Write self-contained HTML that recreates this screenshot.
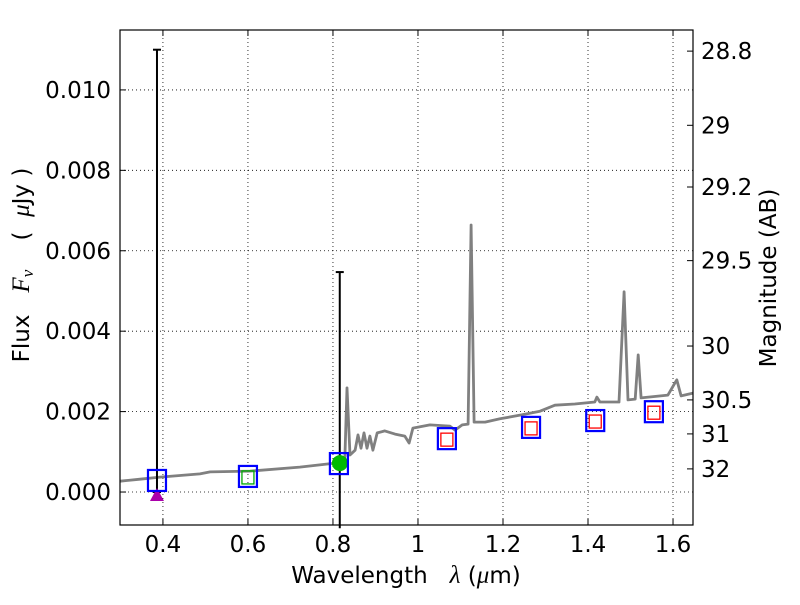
<!DOCTYPE html>
<html><head><meta charset="utf-8"><style>
body{margin:0;background:#fff;}
svg text{font-family:"DejaVu Sans","Liberation Sans",sans-serif;font-size:23px;fill:#000;white-space:pre;}
</style></head><body>
<svg id="chart" width="800" height="600" xmlns="http://www.w3.org/2000/svg">
<g id="grid"></g>
<g id="spec"></g>
<g id="marks"></g>
<rect x="120" y="30" width="573" height="495" fill="none" stroke="#000" stroke-width="1.2"/>
<g id="axes"></g>
<text x="406" y="583" text-anchor="middle">Wavelength   <tspan font-style="italic" font-family="Liberation Serif" font-size="25">λ</tspan> (<tspan font-style="italic" font-family="Liberation Serif" font-size="25">μ</tspan>m)</text>
<text transform="translate(29,265) rotate(-90)" text-anchor="middle">Flux   <tspan font-style="italic" font-family="Liberation Serif" font-size="25">F</tspan><tspan font-style="italic" font-family="Liberation Serif" font-size="17" dy="4">ν</tspan><tspan dy="-4">    (  </tspan><tspan font-style="italic" font-family="Liberation Serif" font-size="25">μ</tspan>Jy )</text>
<text transform="translate(776,278) rotate(-90)" text-anchor="middle">Magnitude (AB)</text>
</svg>
<script>
const xTicks=[0.4,0.6,0.8,1,1.2,1.4,1.6];
const xTickLabels=["0.4","0.6","0.8","1","1.2","1.4","1.6"];
const yTicks=[0,0.002,0.004,0.006,0.008,0.010];
const yTickLabels=["0.000","0.002","0.004","0.006","0.008","0.010"];
const magTicks=[28.8,29,29.2,29.5,30,30.5,31,32];
const magTickLabels=["28.8","29","29.2","29.5","30","30.5","31","32"];
const specLam=[0.299,0.346,0.393,0.487,0.511,0.605,0.722,0.805,0.828,0.833,0.84,0.852,0.859,0.866,0.873,0.88,0.887,0.894,0.904,0.922,0.946,0.969,0.979,0.988,1.028,1.075,1.087,1.104,1.118,1.125,1.132,1.158,1.193,1.245,1.287,1.322,1.369,1.416,1.421,1.428,1.473,1.485,1.494,1.511,1.518,1.525,1.588,1.609,1.619,1.647];
const specFlux=[0.00027,0.00032,0.00037,0.00045,0.0005,0.00052,0.00062,0.00072,0.00087,0.00259,0.00092,0.00104,0.00142,0.00109,0.00147,0.00109,0.00139,0.00104,0.00147,0.00152,0.00144,0.00139,0.00122,0.00159,0.00167,0.00164,0.00154,0.00167,0.00169,0.00664,0.00174,0.00174,0.00182,0.00192,0.00201,0.00216,0.00219,0.00224,0.00236,0.00224,0.00224,0.00498,0.00229,0.00231,0.00341,0.00234,0.00241,0.00279,0.00239,0.00246];
const photLam=[0.386,0.6,0.814,1.068,1.266,1.417,1.555];
const photFlux=[0.0003,0.0004,0.00072,0.00134,0.00162,0.00179,0.00201];
const innerColor=["none","#00aa00","none","red","red","red","red"];
const errLam=[0.386,0.816];
const errLo=[0.0,-0.0009];
const errHi=[0.011,0.00547];
const triLam=[0.386], triFlux=[0.0];
const circLam=[0.814], circFlux=[0.00072];

const X0=120,X1=693,Y0=30,Y1=525,xmin=0.299,xmax=1.647,ymin=-0.00082,ymax=0.01149;
const sx=v=>X0+(v-xmin)/(xmax-xmin)*(X1-X0);
const sy=v=>Y1-(v-ymin)/(ymax-ymin)*(Y1-Y0);
const magToFlux=m=>Math.pow(10,(23.9-m)/2.5);
const NS="http://www.w3.org/2000/svg";
function mk(tag,parent,attrs){const e=document.createElementNS(NS,tag);for(const k in attrs)e.setAttribute(k,attrs[k]);document.getElementById(parent).appendChild(e);return e;}
xTicks.forEach((t,i)=>{const x=sx(t);
 let g=mk('line','grid',{x1:x,x2:x,y1:Y0,y2:Y1,stroke:'#000','stroke-width':0.8,'stroke-dasharray':'1,3'});
 
 
 let a=mk('line','axes',{x1:x,x2:x,y1:Y1,y2:Y1-6,stroke:'#000'});
 
 
 let b=mk('line','axes',{x1:x,x2:x,y1:Y0,y2:Y0+6,stroke:'#000'});
 
 
 let l=mk('text','axes',{x:x,y:Y1+27,'text-anchor':'middle'});l.textContent=xTickLabels[i];
 
 
});
yTicks.forEach((t,i)=>{const y=sy(t);
 let g=mk('line','grid',{x1:X0,x2:X1,y1:y,y2:y,stroke:'#000','stroke-width':0.8,'stroke-dasharray':'1,3'});
 
 
 let a=mk('line','axes',{x1:X0,x2:X0+6,y1:y,y2:y,stroke:'#000'});
 
 
 let l=mk('text','axes',{x:X0-9,y:y+8,'text-anchor':'end'});l.textContent=yTickLabels[i];
 
 
});
magTicks.forEach((m,i)=>{const y=sy(magToFlux(m));
 let a=mk('line','axes',{x1:X1-6,x2:X1,y1:y,y2:y,stroke:'#000'});
 
 
 let l=mk('text','axes',{x:X1+8,y:y+8,'text-anchor':'start'});l.textContent=magTickLabels[i];
 
 
});
const pts=specLam.map((l,i)=>sx(l).toFixed(1)+','+sy(specFlux[i]).toFixed(1)).join(' ');
const sp=mk('polyline','spec',{points:pts,fill:'none',stroke:'#808080','stroke-width':2.8,'stroke-linejoin':'round'});


errLam.forEach((l,i)=>{const x=sx(l),y1=sy(errLo[i]),y2=sy(errHi[i]);
 let e=mk('line','marks',{x1:x,x2:x,y1:y1,y2:y2,stroke:'#000','stroke-width':2});
 
 
 let c=mk('line','marks',{x1:x-4,x2:x+4,y1:y2,y2:y2,stroke:'#000','stroke-width':2});
 
 
 if(y1<Y1){let c2=mk('line','marks',{x1:x-4,x2:x+4,y1:y1,y2:y1,stroke:'#000','stroke-width':2});
 
 }
});
triLam.forEach((l,i)=>{const x=sx(l),y=sy(triFlux[i]);
 let t=mk('polygon','marks',{points:`${x-7},${y+9} ${x+7},${y+9} ${x},${y-4}`,fill:'#aa00aa'});
 
 
});
circLam.forEach((l,i)=>{let c=mk('circle','marks',{cx:sx(l)+1,cy:sy(circFlux[i]),r:8,fill:'#00bb00'});
 
 
});
photLam.forEach((l,i)=>{const x=sx(l),y=sy(photFlux[i]);
 if(innerColor[i]!=='none'){let r=mk('rect','marks',{x:x-6,y:y-5,width:12,height:13,fill:'none',stroke:innerColor[i],'stroke-width':1.3});
 
 }
 let s=mk('rect','marks',{x:x-9,y:y-10,width:18,height:21,fill:'none',stroke:'#0000ff','stroke-width':2.2});
 
 
});
</script>
</body></html>
